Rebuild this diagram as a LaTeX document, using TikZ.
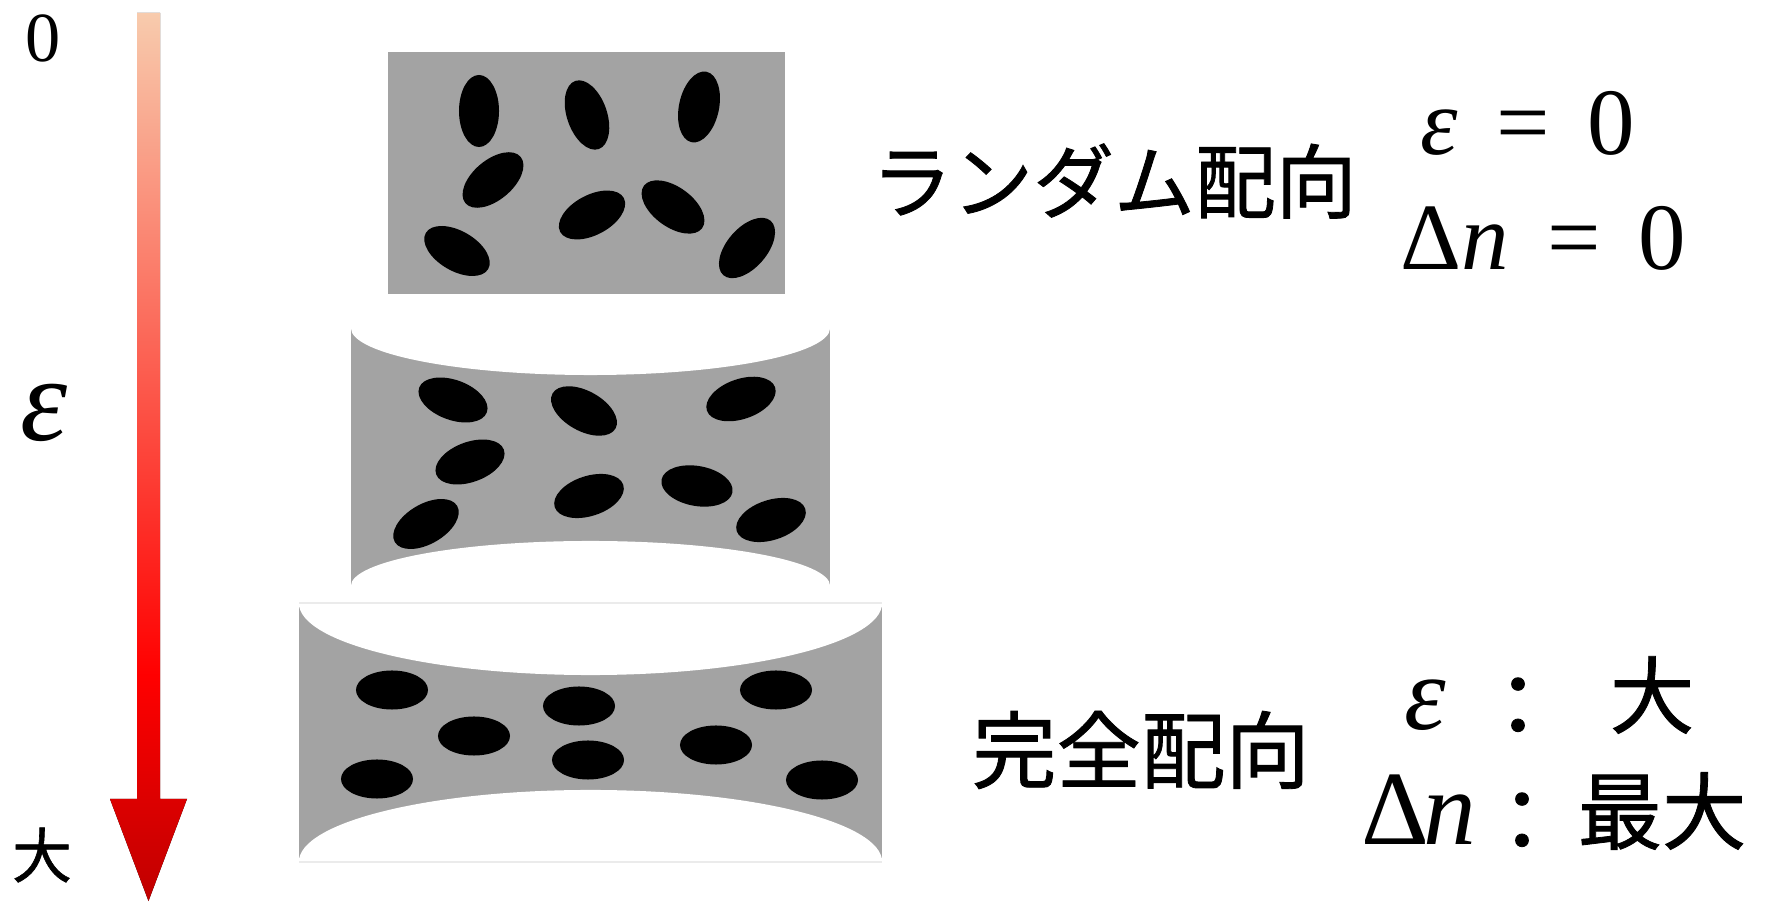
\documentclass[tikz,border=0pt]{standalone}
\usepackage{fontspec}
\newfontfamily\jpfont{Noto Sans CJK JP}[BoldFont={Noto Sans CJK JP}, BoldFeatures={FakeBold=1}]
\newfontfamily\symfont{Liberation Serif}
\usepackage{tikz}

\definecolor{peach}{HTML}{F8CBAD}
\definecolor{deepred}{HTML}{C00000}
\definecolor{filmgray}{RGB}{163,163,163}

% strain arrow: pale at the top, red, then dark at the tip
\pgfdeclareverticalshading{strainshade}{100bp}{color(0bp)=(deepred); color(25bp)=(deepred); color(37.7bp)=(red); color(75bp)=(peach); color(100bp)=(peach)}

\newcommand{\epsym}{{\itshape ε}}
\newcommand{\dnsym}{Δ{\itshape n}}

\begin{document}
\begin{tikzpicture}[x=0.01cm,y=-0.01cm,
  jp/.style={font=\jpfont\bfseries\fontsize{24pt}{28pt}\selectfont, inner sep=0pt},
  symsmall/.style={font=\symfont\fontsize{27pt}{30pt}\selectfont, inner sep=0pt},
  symbig/.style={font=\symfont\fontsize{30pt}{34pt}\selectfont, inner sep=0pt}]
\useasboundingbox (0,0) rectangle (1773,904);

% strain axis
\fill[shading=strainshade] (137,13) -- (160,13) -- (160,799) -- (187,799)
  -- (148.5,901) -- (110,799) -- (137,799) -- cycle;
\node[inner sep=0pt, font=\symfont\fontsize{20pt}{22pt}\selectfont] (axzero) at (43,38) {0};
\node[inner sep=0pt, font=\symfont\fontsize{34pt}{36pt}\selectfont] (axeps) at (44,413) {\epsym};
\node[inner sep=0pt, font=\jpfont\bfseries\fontsize{17pt}{20pt}\selectfont] (axbig) at (42,855) {大};

% unstretched film
\fill[filmgray] (388,52) rectangle (785,294);
\foreach \x/\y/\a in {479/111/90, 587/115/-71, 699/107/78, 493/180/40,
  592/215/28, 673/207/-36, 747/248/49, 457/251/-30}
  \fill[rotate around={\a:(\x,\y)}] (\x,\y) ellipse [x radius=0.36cm, y radius=0.2cm];

% stretched film
\begin{scope}
\clip (351,328) rectangle (830,586);
\fill[filmgray] (351,328) rectangle (830,586);
\fill[white] (590.5,328) ellipse [x radius=2.395cm, y radius=0.47cm];
\fill[white] (590.5,586) ellipse [x radius=2.395cm, y radius=0.45cm];
\end{scope}
\foreach \x/\y/\a in {453/400/-20, 584/411/-29, 741/399/19, 470/462/20,
  589/496/18, 697/486/-10, 426/524/30, 771/520/18}
  \fill[rotate around={\a:(\x,\y)}] (\x,\y) ellipse [x radius=0.36cm, y radius=0.2cm];

% fully stretched film
\begin{scope}
\clip (299,603) rectangle (882,862);
\fill[filmgray] (299,603) rectangle (882,862);
\fill[white] (590.5,603) ellipse [x radius=2.915cm, y radius=0.72cm];
\fill[white] (590.5,862) ellipse [x radius=2.915cm, y radius=0.72cm];
\end{scope}
\draw[black!8, line width=0.4pt] (299,603) -- (882,603) (299,862) -- (882,862);
\foreach \x/\y in {392/690, 474/736, 377/779, 579/706, 588/760, 776/690, 716/745, 822/780}
  \fill (\x,\y) ellipse [x radius=0.36cm, y radius=0.195cm];

% labels
\node[jp, font=\jpfont\bfseries\fontsize{23pt}{28pt}\selectfont] (random) at (1114,181) {ランダム配向};
\node[symsmall, anchor=base west] (epszero) at (1420,155) {\epsym\hspace{0.4em}=\hspace{0.4em}0};
\node[symsmall, anchor=base west] (dnzero) at (1400,270) {\dnsym\hspace{0.4em}=\hspace{0.4em}0};

\node[jp] (aligned) at (1141,750) {完全配向};
\node[symbig, anchor=base west] (epslarge) at (1404,730) {\epsym};
\node[jp] (colonA) at (1518,707) {：};
\node[jp] (large) at (1652,695) {大};
\node[symbig, anchor=base west] (dnlarge) at (1361,845) {Δ\hspace{-0.06em}{\itshape n}};
\node[jp] (colonB) at (1522,822) {：};
\node[jp] (maximum) at (1662,811) {最大};
\end{tikzpicture}
\end{document}
